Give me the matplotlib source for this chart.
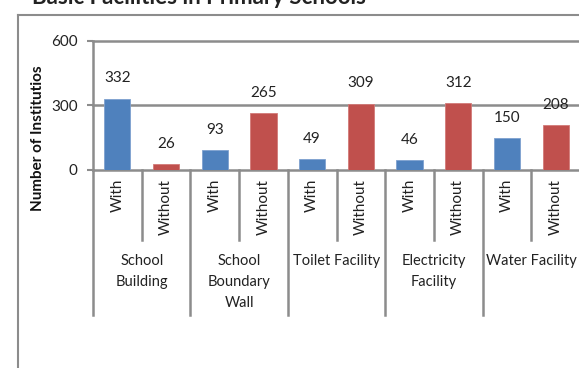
import numpy as np
import matplotlib
matplotlib.use('Agg')
import matplotlib.pyplot as plt
from matplotlib.transforms import blended_transform_factory

plt.rcParams['font.family'] = ['Lato', 'DejaVu Sans']

# facility groups and counts of schools with / without them
facilities = ['School\nBuilding', 'School\nBoundary\nWall', 'Toilet Facility',
              'Electricity\nFacility', 'Water Facility']
status = ['With', 'Without']
with_counts = [332, 93, 49, 46, 150]
without_counts = [26, 265, 309, 312, 208]
yticks = [0, 300, 600]

blue = '#4f81bd'
red = '#c0504d'
gray = '#8c8c8c'
txt = '#222222'

W, H = 579, 368
fig = plt.figure(figsize=(W / 100, H / 100), dpi=100)

def fx(px):
    return px / W

def fy(py):
    return 1 - py / H

ax = fig.add_axes([fx(93), fy(170), fx(580) - fx(93), fy(41) - fy(170)])

n = len(facilities)
x_with = np.arange(n) * 2 + 0.5
x_without = np.arange(n) * 2 + 1.5
bw = 0.54
ax.bar(x_with, with_counts, width=bw, color=blue, edgecolor='#7ea1cf', linewidth=0.6, zorder=3)
ax.bar(x_without, without_counts, width=bw, color=red, edgecolor='#d27a78', linewidth=0.6, zorder=3)

for xs, vals in ((x_with, with_counts), (x_without, without_counts)):
    for x, v in zip(xs, vals):
        ax.annotate(str(v), (x, v), xytext=(0, 14.5), textcoords='offset points',
                    ha='center', va='center', fontsize=11, color=txt)

ax.set_xlim(0, 2 * n)
ax.set_ylim(0, 600)
ax.set_yticks(yticks)
ax.set_yticklabels([str(t) for t in yticks], fontsize=11, color=txt)
ax.tick_params(axis='y', length=4, width=1.5, color=gray, pad=7)
ax.set_xticks([])
for t in yticks[1:]:
    ax.axhline(t, color=gray, lw=1.8, zorder=1, clip_on=False)
for s in ('top', 'right'):
    ax.spines[s].set_visible(False)
for s in ('left', 'bottom'):
    ax.spines[s].set_color(gray)
    ax.spines[s].set_linewidth(1.8)

# category axis: rotated status labels, group labels and divider lines
tr = blended_transform_factory(ax.transData, ax.transAxes)
y_in = (170 - 240) / 129
y_out = (170 - 315) / 129
for i in range(n):
    ax.plot([2 * i + 1, 2 * i + 1], [0, y_in], transform=tr, color=gray,
            lw=1.8, clip_on=False)
    ax.plot([2 * i, 2 * i], [0, y_out], transform=tr, color=gray,
            lw=1.8, clip_on=False)
    for j, lab in enumerate(status):
        ax.text(2 * i + 0.5 + j, (170 - 179) / 129, lab, transform=tr, rotation=90,
                ha='center', va='top', fontsize=11, color=txt)
    ax.text(2 * i + 1, (170 - 254) / 129, facilities[i], transform=tr,
            ha='center', va='top', fontsize=10.5, linespacing=1.65, color=txt)

# chart border and titles
fig.add_artist(plt.Line2D([fx(18), fx(18)], [fy(15), 0], color=gray, lw=1.5))
fig.add_artist(plt.Line2D([fx(18), 1], [fy(15), fy(15)], color=gray, lw=1.5))
fig.text(fx(32), fy(4), 'Basic Facilities in Primary Schools', fontsize=16,
         fontweight='bold', color=txt, ha='left', va='baseline')
fig.text(fx(38), fy(138), 'Number of Institutios', rotation=90, fontsize=11,
         fontweight='bold', color='#111111', ha='center', va='center')

fig.savefig('out.png', dpi=100)
